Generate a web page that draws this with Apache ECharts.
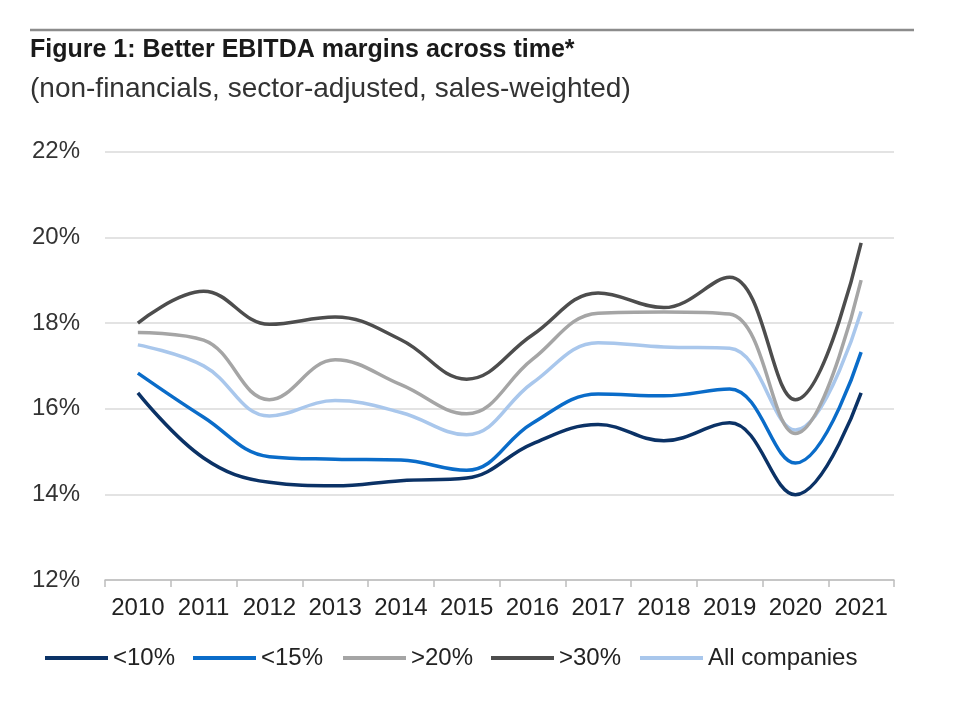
<!DOCTYPE html>
<html>
<head>
<meta charset="utf-8">
<script src="https://cdn.jsdelivr.net/npm/echarts@6/dist/echarts.min.js"></script>
<style>
html,body{margin:0;padding:0;background:#fff;}
#chart{width:961px;height:703px;}
</style>
</head>
<body>
<div id="chart"></div>
<script>
const years = ['2010','2011','2012','2013','2014','2015','2016','2017','2018','2019','2020','2021'];
const below10 = [16.37, 14.85, 14.28, 14.20, 14.32, 14.38, 15.18, 15.63, 15.25, 15.67, 13.99, 16.37];
const below15 = [16.83, 15.80, 14.88, 14.82, 14.80, 14.56, 15.66, 16.34, 16.30, 16.46, 14.73, 17.32];
const above20 = [17.78, 17.60, 16.21, 17.14, 16.56, 15.88, 17.15, 18.23, 18.26, 18.21, 15.42, 19.00];
const above30 = [18.00, 18.74, 17.97, 18.14, 17.61, 16.69, 17.72, 18.70, 18.36, 19.07, 16.21, 19.87];
const allCompanies = [17.49, 17.00, 15.83, 16.19, 15.91, 15.39, 16.60, 17.54, 17.44, 17.41, 15.50, 18.27];
const yTicks = {min: 12, max: 22, interval: 2};

const seriesNames = ['<10%', '<15%', '>20%', '>30%', 'All companies'];
const seriesData = [below10, below15, above20, above30, allCompanies];
const seriesColors = ['#0b3266', '#0a6cc9', '#a5a5a5', '#4d4d4d', '#a9c7ec'];
const legendLefts = [45, 193, 343, 491, 640];

const FONT = '"Liberation Sans", Arial, Helvetica, sans-serif';
const chart = echarts.init(document.getElementById('chart'), null, {renderer: 'canvas'});

const series = seriesNames.map((n, i) => ({
  name: n,
  type: 'line',
  data: seriesData[i],
  smooth: 0.4,
  symbol: 'none',
  lineStyle: {color: seriesColors[i], width: 3.5},
  itemStyle: {color: seriesColors[i]},
  z: [5, 4, 2, 3, 1][i]
}));

const legends = seriesNames.map((n, i) => ({
  data: [{name: n, icon: 'rect'}],
  left: legendLefts[i],
  top: 644,
  padding: 0,
  itemWidth: 63,
  itemHeight: 4,
  itemGap: 0,
  textStyle: {fontFamily: FONT, fontSize: 24, color: '#222', lineHeight: 28, padding: [0, 0, 0, 0]}
}));

chart.setOption({
  animation: false,
  backgroundColor: '#fff',
  textStyle: {fontFamily: FONT},
  graphic: [
    {type: 'line', shape: {x1: 30, y1: 30, x2: 914, y2: 30}, style: {stroke: '#8c8c8c', lineWidth: 2.5}},
    {type: 'text', left: 30, top: 38, style: {text: 'Figure 1: Better EBITDA margins across time*', font: 'bold 25px ' + FONT, fill: '#1a1a1a'}},
    {type: 'text', left: 30, top: 75, style: {text: '(non-financials, sector-adjusted, sales-weighted)', font: '28px ' + FONT, fill: '#333'}}
  ],
  legend: legends,
  grid: {left: 105, right: 67, top: 151.7, bottom: 123, containLabel: false},
  xAxis: {
    type: 'category',
    data: years,
    boundaryGap: true,
    axisLine: {lineStyle: {color: '#bdbdbd', width: 1.5}},
    axisTick: {show: true, length: 7, lineStyle: {color: '#bdbdbd', width: 1.5}},
    axisLabel: {fontSize: 24, color: '#222', margin: 16, interval: 0}
  },
  yAxis: {
    type: 'value',
    min: yTicks.min,
    max: yTicks.max,
    interval: yTicks.interval,
    axisLine: {show: false},
    axisTick: {show: false},
    axisLabel: {fontSize: 24, color: '#333', margin: 25, formatter: '{value}%'},
    splitLine: {lineStyle: {color: '#dadada', width: 1.5}}
  },
  series: series
});
</script>
</body>
</html>
